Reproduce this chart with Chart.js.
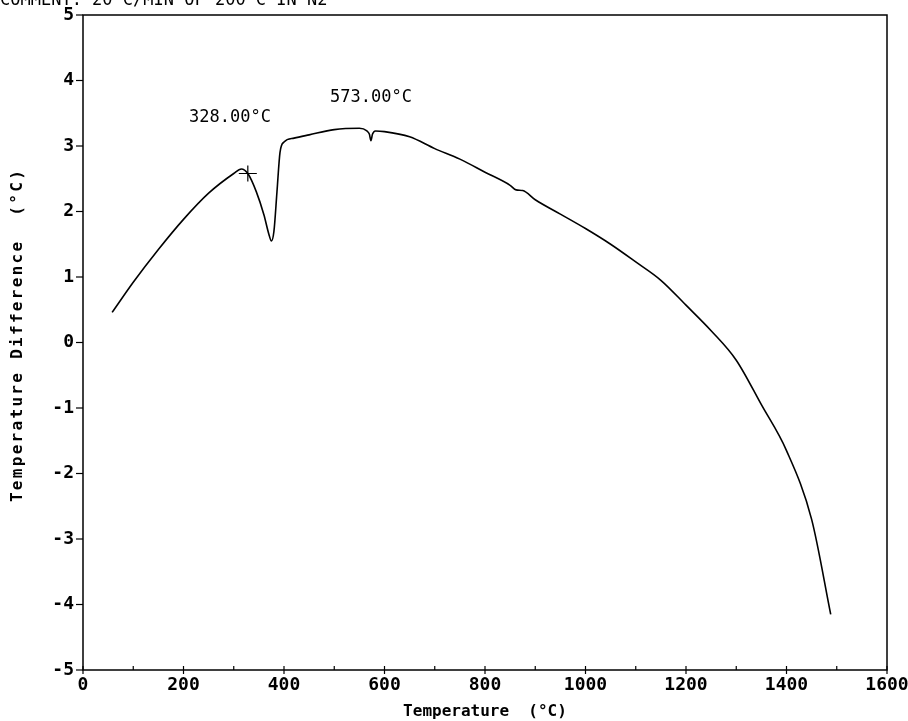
<!DOCTYPE html>
<html>
<head>
<meta charset="utf-8">
<script src="https://cdn.jsdelivr.net/npm/chart.js@4.4.1/dist/chart.umd.min.js"></script>
<style>
  html, body { margin: 0; padding: 0; background: #fff; }
  #wrap { width: 908px; height: 721px; position: relative; }
</style>
</head>
<body>
<div id="wrap"><canvas id="chart-dta" width="908" height="721"></canvas></div>
<script>
// DTA trace: temperature (°C) vs temperature difference (°C)
const temps = [58, 100, 150, 200, 250, 300, 315, 328, 345, 360, 370, 375, 380, 386, 392, 400, 420, 450, 500, 550, 565, 570, 573, 576, 582, 600, 650, 700, 750, 800, 850, 862, 875, 900, 950, 1000, 1050, 1100, 1150, 1200, 1250, 1300, 1350, 1400, 1450, 1488];
const deltaT = [0.46, 0.92, 1.42, 1.88, 2.28, 2.58, 2.65, 2.58, 2.3, 1.95, 1.65, 1.55, 1.7, 2.3, 2.9, 3.06, 3.12, 3.17, 3.25, 3.27, 3.23, 3.18, 3.08, 3.18, 3.23, 3.22, 3.14, 2.96, 2.8, 2.6, 2.4, 2.33, 2.32, 2.18, 1.96, 1.74, 1.5, 1.23, 0.95, 0.57, 0.18, -0.27, -0.95, -1.65, -2.7, -4.15];
const xTicks = [0, 200, 400, 600, 800, 1000, 1200, 1400, 1600];
const yTicks = [-5, -4, -3, -2, -1, 0, 1, 2, 3, 4, 5];
const peakLabels = ['328.00°C', '573.00°C'];
const commentText = 'COMMENT: 20 C/MIN OF 200 C IN N2';
const yTitle = 'Temperature Difference  (°C)';

const FONT = "'DejaVu Sans Mono', monospace";

const frameAndTicks = {
  id: 'frameAndTicks',
  afterDraw(chart) {
    const { ctx, chartArea: { left, right, top, bottom }, scales: { x, y } } = chart;
    ctx.save();
    ctx.strokeStyle = '#000';
    ctx.lineWidth = 1.5;
    ctx.strokeRect(left, top, right - left, bottom - top);
    ctx.lineWidth = 1.2;
    // x ticks: every 100 inward, majors also outward
    for (let v = 0; v <= 1600; v += 100) {
      const px = x.getPixelForValue(v);
      ctx.beginPath();
      ctx.moveTo(px, bottom - 4);
      ctx.lineTo(px, v % 200 === 0 ? bottom + 4 : bottom);
      ctx.stroke();
    }
    // y ticks outward
    yTicks.forEach(v => {
      const py = y.getPixelForValue(v);
      ctx.beginPath();
      ctx.moveTo(left - 7, py);
      ctx.lineTo(left, py);
      ctx.stroke();
    });
    // peak marker cross at 328
    const cx = x.getPixelForValue(328), cy = y.getPixelForValue(2.58);
    ctx.beginPath();
    ctx.moveTo(cx - 9, cy); ctx.lineTo(cx + 9, cy);
    ctx.moveTo(cx, cy - 8); ctx.lineTo(cx, cy + 8);
    ctx.stroke();
    // labels
    ctx.fillStyle = '#000';
    ctx.font = `17px ${FONT}`;
    ctx.textAlign = 'left';
    ctx.textBaseline = 'middle';
    ctx.fillText(peakLabels[0], 189, 118);
    ctx.fillText(peakLabels[1], 330, 98);
    ctx.textBaseline = 'alphabetic';
    ctx.fillText(commentText, 0, 5);
    // y title, spaced out like the plotter lettering
    ctx.translate(18, 335);
    ctx.rotate(-Math.PI / 2);
    ctx.font = `bold 16px ${FONT}`;
    ctx.letterSpacing = '2.3px';
    ctx.textAlign = 'center';
    ctx.textBaseline = 'middle';
    ctx.fillText(yTitle, 0, 0);
    ctx.restore();
  }
};

new Chart(document.getElementById('chart-dta'), {
  type: 'line',
  data: {
    datasets: [{
      data: temps.map((t, i) => ({ x: t, y: deltaT[i] })),
      borderColor: '#000',
      borderWidth: 1.6,
      pointRadius: 0,
      cubicInterpolationMode: 'monotone',
      fill: false
    }]
  },
  options: {
    responsive: false,
    animation: false,
    layout: { padding: { top: 15, right: 21, left: 0, bottom: 0 } },
    plugins: { legend: { display: false }, tooltip: { enabled: false } },
    scales: {
      x: {
        type: 'linear', min: 0, max: 1600,
        afterBuildTicks: axis => { axis.ticks = xTicks.map(v => ({ value: v })); },
        afterFit: axis => { axis.height = 51; axis.paddingLeft = 0; axis.paddingRight = 0; },
        grid: { display: false, drawTicks: false },
        border: { display: false },
        ticks: { color: '#000', padding: 5, maxRotation: 0, callback: v => String(v), font: { family: FONT, size: 18, weight: 'bold' } },
        title: { display: true, text: 'Temperature  (°C)', color: '#000', padding: { top: 0, bottom: 0 }, font: { family: FONT, size: 16, weight: 'bold' } }
      },
      y: {
        type: 'linear', min: -5, max: 5,
        afterBuildTicks: axis => { axis.ticks = yTicks.map(v => ({ value: v })); },
        afterFit: axis => { axis.width = 83; axis.paddingTop = 0; axis.paddingBottom = 0; },
        grid: { display: false, drawTicks: false },
        border: { display: false },
        ticks: { color: '#000', padding: 9, callback: v => String(v), font: { family: FONT, size: 18, weight: 'bold' } }
      }
    }
  },
  plugins: [frameAndTicks]
});
</script>
</body>
</html>
